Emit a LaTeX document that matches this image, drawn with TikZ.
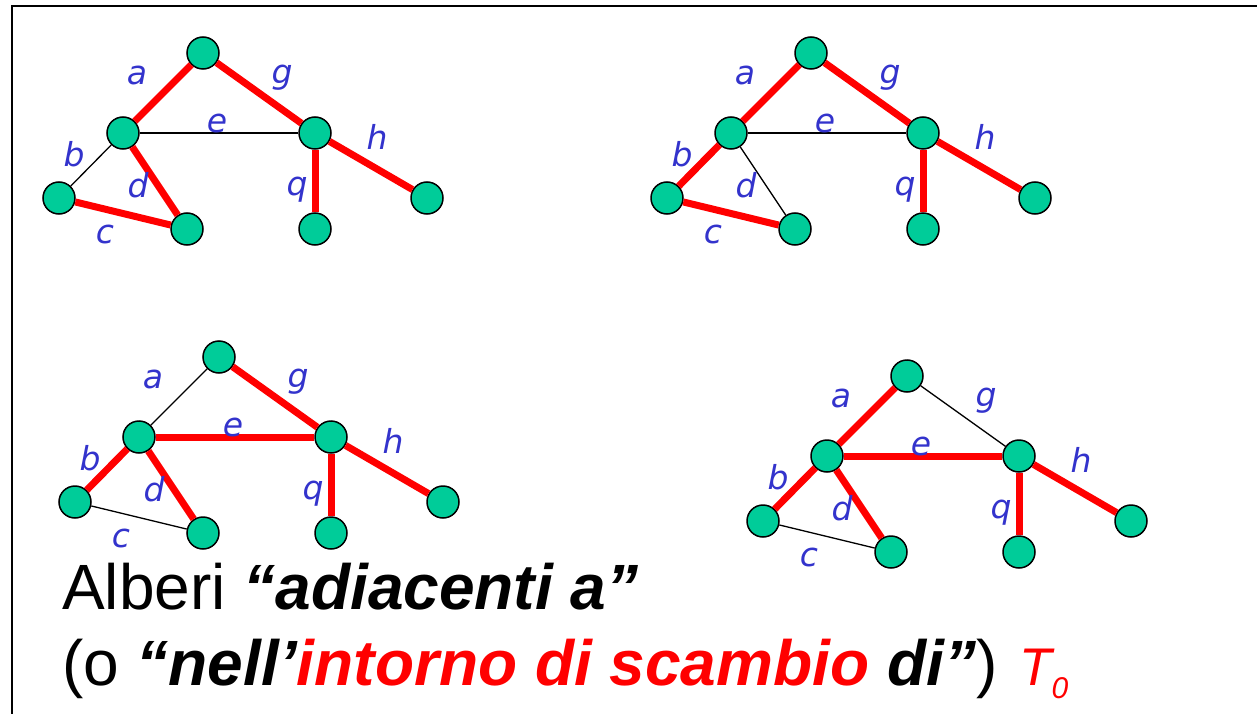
\documentclass[tikz,border=0pt]{standalone}
\usepackage{fontspec}
\setmainfont{Liberation Sans}
\newfontfamily\labelfont{DejaVu Sans}
\usepackage{xcolor}
\usetikzlibrary{positioning}

\definecolor{vertexgreen}{RGB}{0,204,153}
\definecolor{labelblue}{RGB}{51,51,204}

\begin{document}
\begin{tikzpicture}[
    x=1pt, y=-1pt,
    vertex/.style={draw, circle, line width=1.5pt, fill=vertexgreen, minimum size=32pt, inner sep=0pt},
    intree/.style={draw=red, line width=7pt},
    outtree/.style={draw=black, line width=1.3pt},
    edgelabel/.style={font={\labelfont\itshape\fontsize{33}{33}\selectfont}, text=labelblue, inner sep=0pt},
    bigtext/.style={anchor=base west, inner sep=0pt, font={\fontsize{64}{77}\selectfont}}
]
    \useasboundingbox (0,0) rectangle (1257,714);

    % Frame
    \draw[line width=2pt] (12,714) -- (12,6) -- (1257,6);

    % The four spanning trees (shift, then style of edges a b c d e g h q)
    \foreach \dx/\dy/\ea/\eb/\ec/\ed/\ee/\eg/\eh/\eq in {
        0/0/intree/outtree/intree/intree/outtree/intree/intree/intree,
        608/0/intree/intree/intree/outtree/outtree/intree/intree/intree,
        16/304/outtree/intree/outtree/intree/intree/intree/intree/intree,
        704/323/intree/intree/outtree/intree/intree/outtree/intree/intree}
    {
    \begin{scope}[shift={(\dx,\dy)}]
        % Vertices
        \node[vertex] (top) at (203,53) {};
        \node[vertex] (mid) at (123,133) {};
        \node[vertex] (right) at (315,133) {};
        \node[vertex] (lowl) at (59,198) {};
        \node[vertex] (lowd) at (187,229) {};
        \node[vertex] (lowq) at (315,229) {};
        \node[vertex] (lowh) at (427,198) {};

        % Edges
        \draw[\ea] (mid) -- (top);
        \draw[\eg] (top) -- (right);
        \draw[\ee] (mid) -- (right);
        \draw[\eh] (right) -- (lowh);
        \draw[\eq] (right) -- (lowq);
        \draw[\eb] (mid) -- (lowl);
        \draw[\ed] (mid) -- (lowd);
        \draw[\ec] (lowl) -- (lowd);

        % Edge names
        \node[edgelabel] (la) at (137,75) {a};
        \node[edgelabel] (lg) at (282,78) {g};
        \node[edgelabel] (le) at (217,123) {e};
        \node[edgelabel] (lh) at (377,137) {h};
        \node[edgelabel] (lb) at (74,154) {b};
        \node[edgelabel] (ld) at (138,185) {d};
        \node[edgelabel] (lq) at (297,190) {q};
        \node[edgelabel] (lc) at (105,234) {c};
    \end{scope}
    }

    % Caption
    \node[bigtext] (line1) at (62,609) {Alberi \textbf{\textit{“adiacenti a”}}};
    \node[bigtext] (line2) at (62,685) {(o \textbf{\textit{“nell’\textcolor{red}{intorno di scambio} di”}})};
    \node[anchor=base west, inner sep=0pt, text=red, font={\fontsize{53}{53}\selectfont\itshape}] (tzero) at (1019,685) {T\raisebox{-13pt}{\fontsize{30}{30}\selectfont 0}};

\end{tikzpicture}
\end{document}
